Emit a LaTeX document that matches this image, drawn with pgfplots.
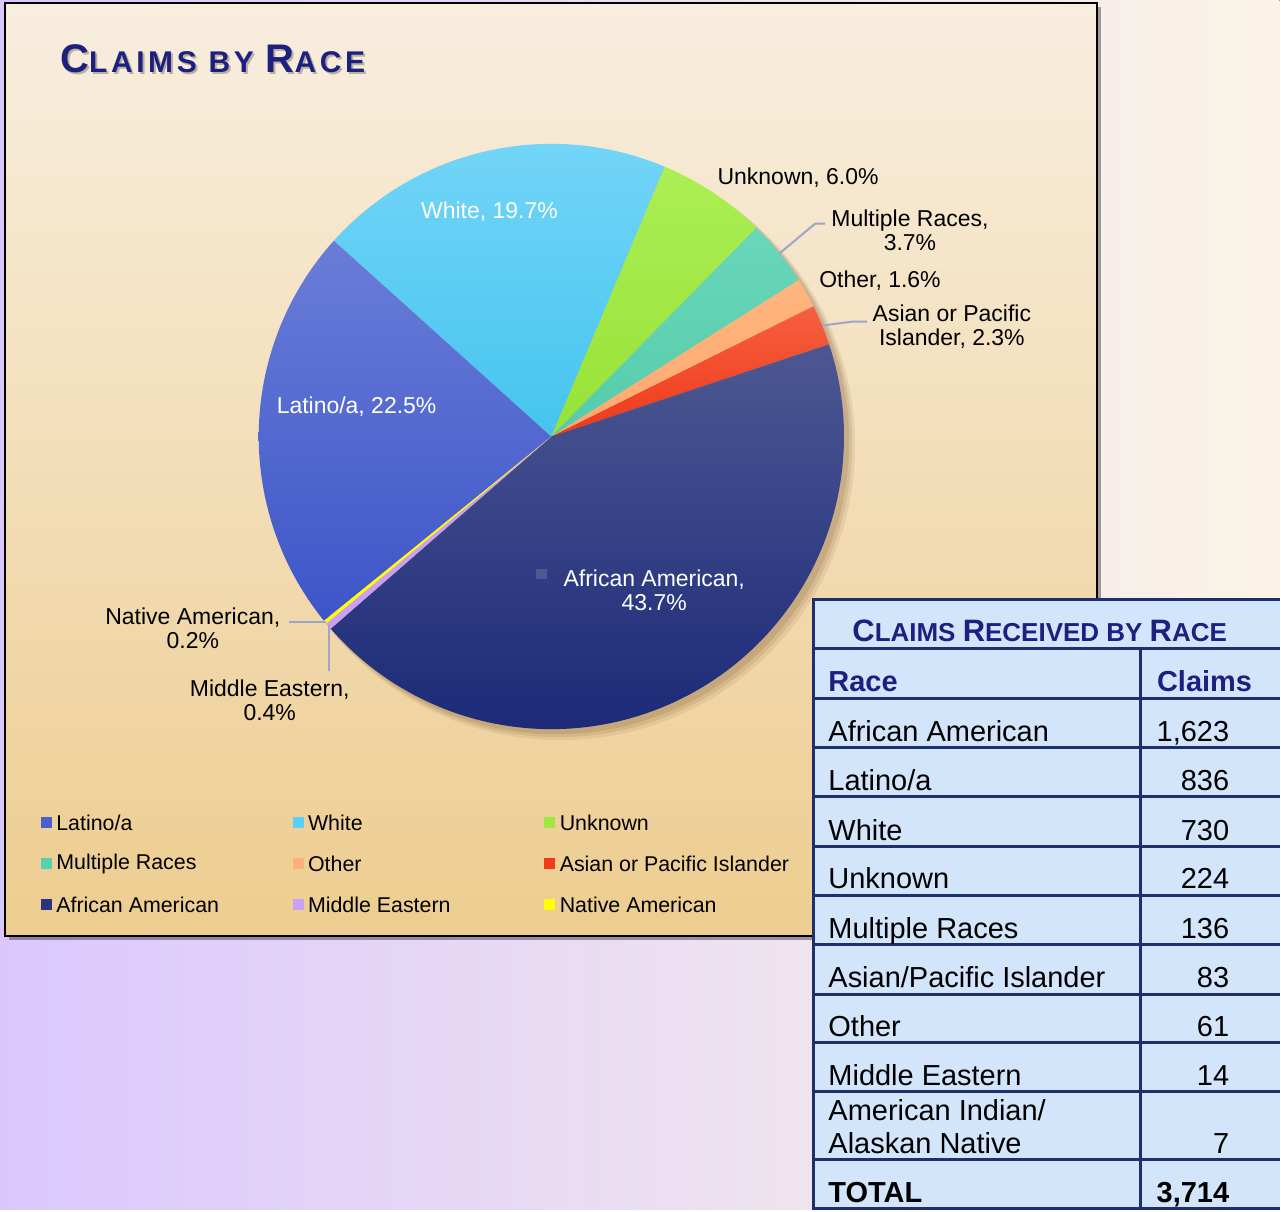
\documentclass[border=0pt]{standalone}
\usepackage{pgfplots}
\pgfplotsset{compat=1.18}
\usepackage{fontspec}
\setmainfont{Liberation Sans}
\newfontfamily\titlefont[LetterSpace=12]{Liberation Sans}
\definecolor{bgL}{HTML}{DAC8FD}
\definecolor{bgR}{HTML}{FBF4E6}
\definecolor{boxT}{HTML}{F8EEDF}
\definecolor{boxB}{HTML}{EDCD90}
\definecolor{navyT}{HTML}{1E2080}
\definecolor{tabfill}{HTML}{D3E5FB}
\definecolor{tabline}{HTML}{1F2F6E}
\definecolor{leader}{HTML}{A0A4C8}
\definecolor{latT}{HTML}{6A7DD8}\definecolor{latB}{HTML}{3D55C8}\definecolor{latK}{HTML}{4A5FD0}
\definecolor{whiT}{HTML}{72D5F7}\definecolor{whiB}{HTML}{45C4EF}\definecolor{whiK}{HTML}{5BCFF5}
\definecolor{unkT}{HTML}{ACEF55}\definecolor{unkB}{HTML}{96E236}\definecolor{unkK}{HTML}{A0E840}
\definecolor{mulT}{HTML}{6AD7BA}\definecolor{mulB}{HTML}{55CCAA}\definecolor{mulK}{HTML}{55D0B0}
\definecolor{othT}{HTML}{FFB57E}\definecolor{othB}{HTML}{FFA970}\definecolor{othK}{HTML}{FFB07A}
\definecolor{asiT}{HTML}{F5603F}\definecolor{asiB}{HTML}{F0381A}\definecolor{asiK}{HTML}{F03A1A}
\definecolor{aaT}{HTML}{4D5892}\definecolor{aaB}{HTML}{1C2A78}\definecolor{aaK}{HTML}{2A3580}
\definecolor{meK}{HTML}{C9A0F5}
\definecolor{naK}{HTML}{FFFF00}
\newcommand\plf{\fontsize{11.5}{13.5}\selectfont}
\newcommand\lgf{\fontsize{10.7}{12}\selectfont}
\newcommand\tbf{\fontsize{14.5}{16.5}\selectfont}
\newcommand\titletext{{\titlefont\bfseries\fontsize{20}{20}\selectfont C\fontsize{15}{15}\selectfont LAIMS BY \fontsize{20}{20}\selectfont R\fontsize{15}{15}\selectfont ACE}}
\newcommand\tabtitle{{\bfseries\fontsize{15.5}{16}\selectfont C\fontsize{13}{13}\selectfont LAIMS \fontsize{15.5}{16}\selectfont R\fontsize{13}{13}\selectfont ECEIVED BY \fontsize{15.5}{16}\selectfont R\fontsize{13}{13}\selectfont ACE}}
% claims by race (counts)
\def\vLat{836}\def\vWhi{730}\def\vUnk{224}\def\vMul{136}\def\vOth{61}
\def\vAsi{83}\def\vAA{1623}\def\vME{14}\def\vNA{7}
\def\total{3714}
\begin{document}
\begin{tikzpicture}
\pgfmathsetmacro\aO{219}
\pgfmathsetmacro\aI{\aO-360*(\vLat/\total)}
\pgfmathsetmacro\aII{\aI-360*(\vWhi/\total)}
\pgfmathsetmacro\aIII{\aII-360*(\vUnk/\total)}
\pgfmathsetmacro\aIV{\aIII-360*(\vMul/\total)}
\pgfmathsetmacro\aV{\aIV-360*(\vOth/\total)}
\pgfmathsetmacro\aVI{\aV-360*(\vAsi/\total)}
\pgfmathsetmacro\aVII{\aVI-360*(\vAA/\total)}
\pgfmathsetmacro\aVIII{\aVII-360*(\vME/\total)}
\pgfmathsetmacro\aIX{\aVIII-360*(\vNA/\total)}
\begin{axis}[scale only axis, width=640.5pt, height=605.5pt,
  xmin=0, xmax=1281, ymin=0, ymax=1211, hide axis, clip=false]
% page background
\fill[left color=bgL, right color=bgR] (0,0) rectangle (1281,1211);
% chart box
\fill[black, opacity=0.35] (9,270) rectangle (1102,1204);
\path[draw=black, line width=1pt, top color=boxT, bottom color=boxB] (5,274) rectangle (1098,1208);
% title
\node[anchor=base west, inner sep=0pt, text=black, opacity=0.25] at (62,1136) {\titletext};
\node[anchor=base west, inner sep=0pt, text=navyT] at (60,1138) {\titletext};
% pie shadow
\fill[brown!60!black, opacity=0.10] (561,765) circle[radius=295];
\fill[brown!60!black, opacity=0.12] (559,767) circle[radius=294];
\fill[brown!60!black, opacity=0.15] (557,769) circle[radius=293];
% slices
\addplot[draw=none, top color=latT, bottom color=latB, domain=\aI:\aO, samples=80, variable=\t]
  ({552+293*cos(\t)},{774+293*sin(\t)}) -- (axis cs:552,774) -- cycle;
\addplot[draw=none, top color=whiT, bottom color=whiB, domain=\aII:\aI, samples=80, variable=\t]
  ({552+293*cos(\t)},{774+293*sin(\t)}) -- (axis cs:552,774) -- cycle;
\addplot[draw=none, top color=unkT, bottom color=unkB, domain=\aIII:\aII, samples=30, variable=\t]
  ({552+293*cos(\t)},{774+293*sin(\t)}) -- (axis cs:552,774) -- cycle;
\addplot[draw=none, top color=mulT, bottom color=mulB, domain=\aIV:\aIII, samples=20, variable=\t]
  ({552+293*cos(\t)},{774+293*sin(\t)}) -- (axis cs:552,774) -- cycle;
\addplot[draw=none, top color=othT, bottom color=othB, domain=\aV:\aIV, samples=10, variable=\t]
  ({552+293*cos(\t)},{774+293*sin(\t)}) -- (axis cs:552,774) -- cycle;
\addplot[draw=none, top color=asiT, bottom color=asiB, domain=\aVI:\aV, samples=12, variable=\t]
  ({552+293*cos(\t)},{774+293*sin(\t)}) -- (axis cs:552,774) -- cycle;
\addplot[draw=none, top color=aaT, bottom color=aaB, domain=\aVII:\aVI, samples=150, variable=\t]
  ({552+293*cos(\t)},{774+293*sin(\t)}) -- (axis cs:552,774) -- cycle;
\addplot[draw=none, fill=meK, domain=\aVIII:\aVII, samples=4, variable=\t]
  ({552+293*cos(\t)},{774+293*sin(\t)}) -- (axis cs:552,774) -- cycle;
\addplot[draw=none, fill=naK, domain=\aIX:\aVIII, samples=4, variable=\t]
  ({552+293*cos(\t)},{774+293*sin(\t)}) -- (axis cs:552,774) -- cycle;
% data labels
\node[text=white] at (490,999) {\plf White, 19.7\%};
\node at (799,1033) {\plf Unknown, 6.0\%};
\node[align=center] at (911,980) {\plf Multiple Races,\\\plf 3.7\%};
\node at (881,930) {\plf Other, 1.6\%};
\node[align=center] at (953,884) {\plf Asian or Pacific\\\plf Islander, 2.3\%};
\node[text=white] at (357,804) {\plf Latino/a, 22.5\%};
\node[text=white, align=center] at (655,620) {\plf African American,\\\plf 43.7\%};
\fill[aaT] (537,631) rectangle (548,641);
\node[align=center] at (193,582) {\plf Native American,\\\plf 0.2\%};
\node[align=center] at (270,510) {\plf Middle Eastern,\\\plf 0.4\%};
% leader lines
\draw[leader, line width=1pt] (780,957) -- (816,987) -- (826,987);
\draw[leader, line width=1pt] (823,885) -- (853,889) -- (868,889);
\draw[leader, line width=1pt] (289,588) -- (326,588);
\draw[leader, line width=1pt] (329,585) -- (329,539);
% legend
\fill[latK] (41,382) rectangle (52,393); \node[anchor=west, inner sep=0pt] at (56,387) {\lgf Latino/a};
\fill[whiK] (293,382) rectangle (304,393); \node[anchor=west, inner sep=0pt] at (308,387) {\lgf White};
\fill[unkK] (545,382) rectangle (556,393); \node[anchor=west, inner sep=0pt] at (560,387) {\lgf Unknown};
\fill[mulK] (41,341) rectangle (52,352); \node[anchor=west, inner sep=0pt] at (56,346) {\lgf Multiple Races};
\fill[othK] (293,341) rectangle (304,352); \node[anchor=west, inner sep=0pt] at (308,346) {\lgf Other};
\fill[asiK] (545,341) rectangle (556,352); \node[anchor=west, inner sep=0pt] at (560,346) {\lgf Asian or Pacific Islander};
\fill[aaK] (41,300) rectangle (52,311); \node[anchor=west, inner sep=0pt] at (56,305) {\lgf African American};
\fill[meK] (293,300) rectangle (304,311); \node[anchor=west, inner sep=0pt] at (308,305) {\lgf Middle Eastern};
\fill[naK] (545,300) rectangle (556,311); \node[anchor=west, inner sep=0pt] at (560,305) {\lgf Native American};
% table
\fill[tabfill] (813,0) rectangle (1281,611);
\pgfplotsinvokeforeach{611,562,512,463,414,364,314,265,215,167,118,50,1}{
  \draw[tabline, line width=1.5pt] (813,#1) -- (1281,#1);
}
\draw[tabline, line width=1.5pt] (814,0) -- (814,612);
\draw[tabline, line width=1.5pt] (1142,0) -- (1142,562);
\node[anchor=base west, inner sep=0pt, text=navyT] at (853,569) {\tabtitle};
\node[anchor=base west, inner sep=0pt, text=navyT] at (829,519) {\tbf\bfseries Race};
\node[anchor=base west, inner sep=0pt, text=navyT] at (1158,519) {\tbf\bfseries Claims};
\node[anchor=base west, inner sep=0pt] at (829,469) {\tbf African American};
\node[anchor=base east, inner sep=0pt] at (1231,469) {\tbf 1,623};
\node[anchor=base west, inner sep=0pt] at (829,420) {\tbf Latino/a};
\node[anchor=base east, inner sep=0pt] at (1231,420) {\tbf 836};
\node[anchor=base west, inner sep=0pt] at (829,370) {\tbf White};
\node[anchor=base east, inner sep=0pt] at (1231,370) {\tbf 730};
\node[anchor=base west, inner sep=0pt] at (829,321) {\tbf Unknown};
\node[anchor=base east, inner sep=0pt] at (1231,321) {\tbf 224};
\node[anchor=base west, inner sep=0pt] at (829,271) {\tbf Multiple Races};
\node[anchor=base east, inner sep=0pt] at (1231,271) {\tbf 136};
\node[anchor=base west, inner sep=0pt] at (829,222) {\tbf Asian/Pacific Islander};
\node[anchor=base east, inner sep=0pt] at (1231,222) {\tbf 83};
\node[anchor=base west, inner sep=0pt] at (829,173) {\tbf Other};
\node[anchor=base east, inner sep=0pt] at (1231,173) {\tbf 61};
\node[anchor=base west, inner sep=0pt] at (829,124) {\tbf Middle Eastern};
\node[anchor=base east, inner sep=0pt] at (1231,124) {\tbf 14};
\node[anchor=base west, inner sep=0pt] at (829,89) {\tbf American Indian/};
\node[anchor=base west, inner sep=0pt] at (829,56) {\tbf Alaskan Native};
\node[anchor=base east, inner sep=0pt] at (1231,56) {\tbf 7};
\node[anchor=base west, inner sep=0pt] at (829,7) {\tbf\bfseries TOTAL};
\node[anchor=base east, inner sep=0pt] at (1231,7) {\tbf\bfseries 3,714};
\end{axis}
\end{tikzpicture}
\end{document}
